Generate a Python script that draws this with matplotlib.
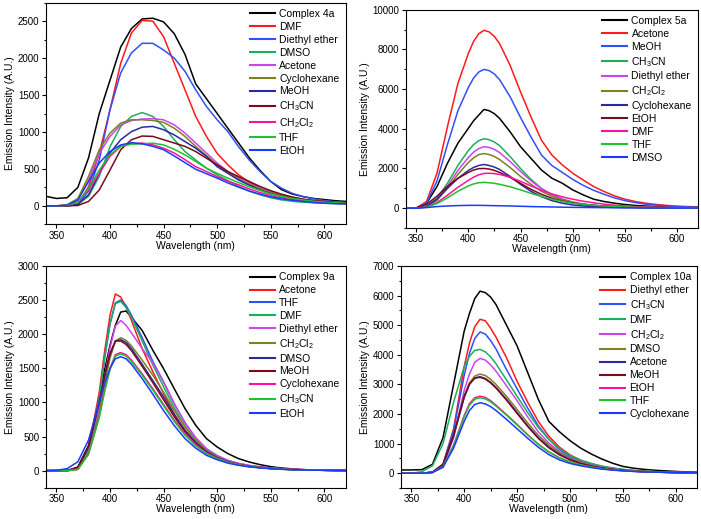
import matplotlib
matplotlib.use('Agg')
import matplotlib.pyplot as plt
from matplotlib.ticker import MultipleLocator

plt.rcParams['font.family'] = ['Liberation Sans', 'DejaVu Sans']

colors = ['#000000', '#FF1A1A', '#3050F8', '#1AAF5A', '#CC44EE', '#808020',
          '#2A2AA0', '#7A0A1A', '#FF10A0', '#20C030', '#1A3AFF']

CH3CN = r'$\mathregular{CH_3CN}$'
CH2Cl2 = r'$\mathregular{CH_2Cl_2}$'

# ---- Complex 4a ----
labels_4a = ['Complex 4a', 'DMF', 'Diethyl ether', 'DMSO', 'Acetone', 'Cyclohexane',
             'MeOH', CH3CN, CH2Cl2, 'THF', 'EtOH']
wl_4a = list(range(340, 621, 10))
int_4a = [
    [130, 100, 110, 250, 650, 1250, 1700, 2150, 2400, 2530, 2540, 2490, 2330, 2050, 1650, 1450, 1250, 1050, 850, 650, 480, 330, 220, 160, 125, 100, 85, 70, 60],
    [0, 0, 0, 20, 260, 710, 1300, 1930, 2340, 2510, 2500, 2290, 1930, 1570, 1210, 940, 710, 555, 420, 320, 240, 175, 126, 100, 80, 62, 50, 42, 36],
    [0, 0, 0, 20, 200, 620, 1300, 1800, 2070, 2200, 2200, 2110, 2000, 1820, 1570, 1345, 1165, 1005, 800, 620, 465, 330, 240, 170, 126, 95, 72, 55, 45],
    [0, 0, 0, 20, 130, 400, 800, 1075, 1210, 1263, 1210, 1075, 895, 735, 620, 510, 420, 340, 262, 200, 150, 110, 80, 62, 50, 42, 36, 30, 27],
    [0, 0, 10, 80, 350, 710, 940, 1095, 1155, 1175, 1180, 1165, 1095, 985, 850, 715, 580, 465, 375, 300, 240, 190, 150, 115, 90, 72, 60, 45, 36],
    [0, 0, 15, 100, 400, 760, 985, 1120, 1165, 1165, 1155, 1130, 1050, 940, 805, 680, 555, 450, 360, 290, 230, 180, 140, 110, 85, 70, 58, 45, 36],
    [0, 0, 0, 20, 150, 440, 715, 895, 1005, 1065, 1075, 1030, 960, 870, 780, 670, 530, 440, 350, 280, 215, 165, 126, 100, 80, 62, 50, 42, 36],
    [0, 0, 0, 5, 60, 215, 485, 760, 895, 945, 940, 895, 850, 805, 735, 645, 555, 465, 395, 330, 262, 205, 158, 120, 90, 72, 60, 45, 36],
    [0, 0, 5, 50, 215, 440, 670, 805, 840, 850, 825, 780, 715, 625, 530, 465, 395, 335, 285, 230, 180, 140, 105, 85, 68, 55, 45, 35, 27],
    [0, 0, 5, 50, 240, 485, 690, 805, 835, 840, 848, 825, 765, 690, 600, 510, 440, 375, 315, 260, 208, 160, 126, 100, 80, 62, 50, 42, 36],
    [0, 0, 10, 80, 330, 580, 735, 825, 855, 840, 805, 760, 675, 585, 495, 435, 375, 310, 253, 200, 158, 120, 95, 75, 60, 45, 36, 30, 27],
]

# ---- Complex 5a ----
labels_5a = ['Complex 5a', 'Acetone', 'MeOH', CH3CN, 'Diethyl ether', CH2Cl2,
             'Cyclohexane', 'EtOH', 'DMF', 'THF', 'DMSO']
wl_5a = [340, 350, 360, 370, 380, 390, 400, 405, 410, 415, 420, 425] + list(range(430, 621, 10))
int_5a = [
    [0, 0, 250, 1090, 2260, 3270, 4020, 4400, 4690, 4975, 4910, 4760, 4520, 3850, 3100, 2510, 1925, 1510, 1256, 920, 670, 452, 335, 250, 184, 134, 105, 84, 65, 50, 40, 33],
    [0, 0, 335, 1760, 4100, 6280, 7790, 8400, 8790, 8960, 8880, 8650, 8290, 7200, 5860, 4600, 3430, 2680, 2180, 1760, 1420, 1090, 840, 620, 452, 335, 250, 184, 140, 100, 80, 67],
    [0, 0, 260, 1370, 3200, 4900, 6080, 6550, 6860, 6990, 6930, 6760, 6470, 5620, 4570, 3590, 2680, 2150, 1800, 1450, 1150, 900, 700, 520, 380, 280, 200, 150, 110, 80, 60, 50],
    [0, 0, 100, 500, 1250, 2150, 2900, 3200, 3400, 3500, 3450, 3330, 3150, 2600, 2000, 1450, 1000, 680, 450, 290, 190, 130, 95, 70, 52, 40, 32, 25, 20, 15, 12, 10],
    [0, 0, 80, 420, 1100, 1900, 2550, 2820, 3000, 3100, 3060, 2960, 2800, 2350, 1850, 1380, 980, 680, 460, 310, 210, 140, 100, 75, 55, 45, 35, 28, 22, 18, 14, 12],
    [0, 0, 80, 400, 1000, 1700, 2300, 2530, 2700, 2750, 2700, 2600, 2450, 2050, 1600, 1200, 850, 600, 420, 290, 200, 140, 100, 75, 55, 45, 35, 28, 22, 18, 14, 12],
    [0, 0, 100, 450, 1000, 1500, 1900, 2050, 2150, 2200, 2150, 2070, 1950, 1600, 1200, 850, 580, 380, 250, 160, 110, 75, 55, 40, 32, 25, 20, 15, 12, 10, 9, 8],
    [0, 10, 200, 600, 1100, 1500, 1800, 1920, 1990, 2000, 1970, 1900, 1800, 1550, 1250, 950, 700, 500, 360, 260, 190, 140, 105, 80, 60, 45, 35, 28, 22, 18, 14, 12],
    [0, 0, 60, 280, 650, 1050, 1400, 1560, 1680, 1750, 1760, 1740, 1700, 1560, 1350, 1120, 900, 720, 570, 450, 350, 270, 200, 150, 110, 80, 60, 45, 35, 25, 20, 15],
    [0, 0, 50, 230, 520, 850, 1120, 1220, 1280, 1300, 1280, 1250, 1200, 1080, 920, 750, 590, 450, 340, 250, 190, 140, 105, 80, 60, 45, 35, 28, 22, 18, 14, 12],
    [0, 0, 30, 80, 110, 130, 140, 142, 140, 138, 130, 125, 120, 110, 95, 80, 70, 60, 50, 40, 35, 30, 25, 20, 17, 15, 12, 10, 9, 8, 6, 5],
]

# ---- Complex 9a ----
labels_9a = ['Complex 9a', 'Acetone', 'THF', 'DMF', 'Diethyl ether', CH2Cl2,
             'DMSO', 'MeOH', 'Cyclohexane', CH3CN, 'EtOH']
wl_9a = [340, 350, 360, 370, 380, 390, 395, 400, 405, 410, 415, 420] + list(range(430, 621, 10))
int_9a = [
    [0, 0, 0, 54, 370, 1055, 1480, 1837, 2130, 2325, 2340, 2250, 2055, 1764, 1495, 1200, 910, 665, 470, 347, 250, 176, 127, 88, 59, 39, 26, 15, 9, 5, 3, 2],
    [0, 0, 0, 29, 322, 1153, 1750, 2277, 2590, 2545, 2400, 2204, 1788, 1450, 1130, 830, 590, 410, 280, 195, 135, 95, 70, 54, 40, 29, 20, 15, 10, 7, 5, 3],
    [0, 0, 0, 25, 300, 1050, 1650, 2150, 2460, 2500, 2420, 2280, 1950, 1600, 1300, 980, 700, 480, 320, 220, 150, 105, 75, 55, 40, 28, 20, 14, 10, 6, 4, 3],
    [0, 0, 0, 25, 300, 1060, 1650, 2150, 2450, 2480, 2390, 2250, 1900, 1550, 1230, 920, 650, 450, 300, 205, 140, 100, 70, 50, 35, 25, 18, 12, 9, 6, 4, 3],
    [0, 0, 0, 20, 270, 900, 1380, 1800, 2120, 2200, 2130, 2020, 1790, 1580, 1300, 980, 700, 480, 320, 220, 150, 105, 75, 55, 40, 28, 20, 14, 10, 6, 4, 3],
    [0, 0, 0, 20, 260, 850, 1280, 1650, 1900, 1950, 1910, 1830, 1620, 1400, 1150, 880, 640, 440, 300, 200, 140, 95, 68, 50, 35, 25, 18, 12, 9, 6, 4, 3],
    [0, 0, 5, 40, 350, 1000, 1380, 1700, 1900, 1920, 1880, 1790, 1560, 1320, 1080, 820, 590, 410, 280, 190, 130, 90, 62, 45, 32, 22, 16, 11, 8, 5, 3, 2],
    [0, 0, 5, 40, 360, 1000, 1390, 1720, 1900, 1900, 1850, 1760, 1530, 1290, 1040, 790, 570, 400, 270, 185, 125, 88, 62, 45, 32, 22, 16, 11, 8, 5, 3, 2],
    [0, 0, 0, 20, 250, 800, 1180, 1500, 1700, 1730, 1700, 1620, 1420, 1200, 970, 740, 540, 380, 260, 180, 125, 88, 62, 45, 32, 22, 16, 11, 8, 5, 3, 2],
    [0, 0, 0, 20, 240, 780, 1160, 1480, 1680, 1710, 1680, 1600, 1400, 1180, 950, 720, 520, 365, 250, 175, 120, 85, 60, 43, 30, 21, 15, 10, 7, 5, 3, 2],
    [0, 5, 30, 130, 450, 1000, 1280, 1500, 1640, 1670, 1640, 1560, 1350, 1120, 880, 660, 470, 330, 225, 160, 110, 78, 55, 40, 28, 20, 14, 10, 7, 5, 3, 2],
]

# ---- Complex 10a ----
labels_10a = ['Complex 10a', 'Diethyl ether', CH3CN, 'DMF', CH2Cl2, 'DMSO',
              'Acetone', 'MeOH', 'EtOH', 'THF', 'Cyclohexane']
wl_10a = [340, 350, 360, 370, 380, 390, 400, 405, 410, 415, 420, 425] + list(range(430, 621, 10))
int_10a = [
    [110, 110, 120, 300, 1200, 3000, 4800, 5400, 5900, 6150, 6100, 5950, 5700, 5000, 4300, 3400, 2500, 1750, 1400, 1100, 850, 650, 480, 340, 230, 170, 130, 100, 80, 60, 45, 35],
    [0, 0, 0, 40, 300, 1500, 3600, 4400, 4950, 5200, 5150, 4900, 4600, 3900, 3100, 2400, 1750, 1250, 880, 620, 440, 320, 230, 170, 125, 90, 70, 50, 40, 30, 25, 20],
    [0, 0, 0, 40, 300, 1450, 3300, 4050, 4550, 4770, 4700, 4480, 4200, 3500, 2850, 2200, 1600, 1150, 800, 560, 400, 290, 210, 150, 110, 80, 60, 45, 35, 25, 20, 15],
    [0, 0, 50, 250, 1000, 2400, 3600, 3950, 4150, 4180, 4100, 3930, 3700, 3150, 2600, 2050, 1550, 1150, 830, 600, 440, 330, 240, 180, 130, 95, 72, 55, 42, 30, 25, 20],
    [0, 0, 0, 30, 250, 1200, 2800, 3350, 3750, 3880, 3820, 3660, 3450, 2950, 2450, 1900, 1400, 1020, 730, 520, 380, 280, 200, 150, 110, 80, 60, 45, 35, 25, 20, 15],
    [0, 0, 0, 30, 300, 1300, 2600, 3050, 3280, 3350, 3300, 3170, 3000, 2600, 2150, 1700, 1280, 950, 690, 500, 360, 260, 190, 140, 100, 75, 55, 42, 32, 24, 18, 15],
    [0, 0, 0, 30, 280, 1250, 2550, 3000, 3220, 3260, 3200, 3070, 2900, 2500, 2050, 1600, 1200, 880, 640, 460, 330, 240, 175, 130, 95, 70, 52, 40, 30, 22, 17, 14],
    [0, 0, 0, 30, 300, 1300, 2600, 3020, 3210, 3240, 3180, 3050, 2880, 2470, 2020, 1580, 1180, 860, 620, 450, 330, 240, 175, 130, 95, 70, 52, 40, 30, 22, 17, 14],
    [0, 0, 0, 25, 220, 950, 1950, 2350, 2550, 2600, 2560, 2450, 2300, 1980, 1650, 1300, 980, 720, 520, 380, 280, 210, 155, 115, 85, 65, 50, 38, 30, 22, 17, 14],
    [0, 0, 0, 25, 220, 930, 1900, 2300, 2500, 2550, 2510, 2410, 2270, 1960, 1630, 1290, 980, 720, 520, 380, 280, 210, 155, 115, 85, 65, 50, 38, 30, 22, 17, 14],
    [0, 0, 0, 25, 200, 850, 1750, 2120, 2320, 2380, 2340, 2250, 2120, 1820, 1500, 1180, 880, 630, 450, 330, 250, 190, 140, 105, 80, 60, 45, 35, 28, 20, 15, 12],
]


def draw(ax, wl, series, labels, ylim, ymajor, yminor):
    for vals, lab, col in zip(series, labels, colors):
        ax.plot(wl, vals, color=col, lw=1.1, label=lab)
    ax.set_xlim(340, 620)
    ax.set_ylim(*ylim)
    ax.xaxis.set_major_locator(MultipleLocator(50))
    ax.xaxis.set_minor_locator(MultipleLocator(25))
    ax.yaxis.set_major_locator(MultipleLocator(ymajor))
    ax.yaxis.set_minor_locator(MultipleLocator(yminor))
    ax.tick_params(which='major', direction='out', length=3, width=0.8, labelsize=7, pad=1.5)
    ax.tick_params(which='minor', direction='out', length=1.8, width=0.8)
    for s in ax.spines.values():
        s.set_linewidth(0.8)
    ax.set_xlabel('Wavelength (nm)', fontsize=7.5, labelpad=0)
    ax.set_ylabel('Emission Intensity (A.U.)', fontsize=7.5, labelpad=2)
    leg = ax.legend(loc='upper right', frameon=False, fontsize=7.5, handlelength=2.4,
                    handletextpad=0.4, labelspacing=0.28, borderaxespad=0.2)
    for ln in leg.get_lines():
        ln.set_linewidth(1.5)


fig = plt.figure(figsize=(7.01, 5.19), dpi=100)
ax1 = fig.add_axes([0.0652, 0.5678, 0.428, 0.427])
ax2 = fig.add_axes([0.5787, 0.5607, 0.4170, 0.4206])
ax3 = fig.add_axes([0.0652, 0.0603, 0.428, 0.4272])
ax4 = fig.add_axes([0.5716, 0.0597, 0.4227, 0.4278])

draw(ax1, wl_4a, int_4a, labels_4a, (-250, 2750), 500, 250)
draw(ax2, wl_5a, int_5a, labels_5a, (-1000, 10000), 2000, 1000)
draw(ax3, wl_9a, int_9a, labels_9a, (-250, 3000), 500, 250)
draw(ax4, wl_10a, int_10a, labels_10a, (-500, 7000), 1000, 500)

fig.savefig('out.png', dpi=100)
